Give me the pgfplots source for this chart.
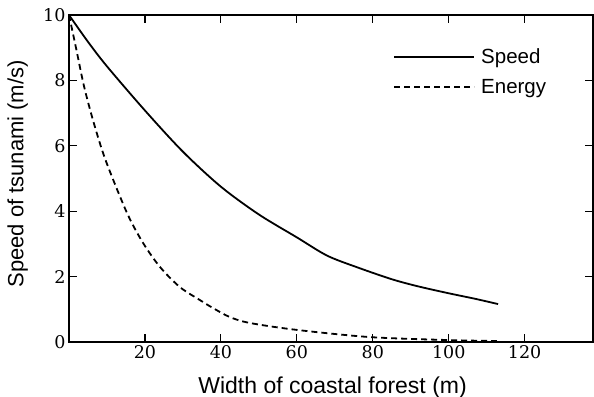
\documentclass[border=0pt]{standalone}
\usepackage{pgfplots}
\pgfplotsset{compat=1.18}
\usepackage{fontspec}
\setmainfont{Liberation Sans}
\newfontfamily\tickfont{DejaVu Serif}
\begin{document}
\begin{tikzpicture}
\begin{axis}[
  scale only axis, width=524bp, height=327bp,
  xmin=0, xmax=138, ymin=0, ymax=10,
  xtick={20,40,...,120}, ytick={0,2,...,10},
  tick align=inside, major tick length=8bp,
  axis line style={line width=1.4bp},
  every tick/.style={line width=1.2bp, black},
  /pgf/number format/assume math mode=true,
  ticklabel style={font=\tickfont\fontsize{17.5bp}{19bp}\selectfont},
  xlabel={Width of coastal forest (m)},
  ylabel={Speed of tsunami (m/s)},
  xlabel style={at={(rel axis cs:0.503,-0.156)}, anchor=base, font=\fontsize{23bp}{26bp}\selectfont},
  ylabel style={at={(rel axis cs:-0.098,0.514)}, anchor=center, font=\fontsize{22bp}{26bp}\selectfont},
  legend style={draw=none, fill=none, at={(rel axis cs:0.613,0.91)}, anchor=north west,
    font=\fontsize{20.5bp}{24bp}\selectfont, cells={anchor=west}, row sep=10bp, column sep=4bp},
  legend image code/.code={\draw[#1, line width=1.8bp] (0bp,0bp) -- (80bp,0bp);},
]
\addplot[black, line width=1.8bp, smooth, tension=0.5] coordinates {
(0,10) (5,9.18) (10,8.43) (20,7.08) (30,5.82) (40,4.75) (50,3.90) (60,3.20) (68,2.64) (76,2.28) (85,1.92) (92,1.70) (100,1.49) (107,1.32) (113,1.16)
};
\addlegendentry{Speed}
\addplot[black, line width=1.8bp, dash pattern=on 6bp off 4bp, smooth, tension=0.5] coordinates {
(0,10) (1.8,9.02) (4.0,7.80) (6.6,6.67) (9.7,5.54) (15.3,3.94) (19.5,3.03) (24.0,2.29) (29.2,1.68) (34.5,1.28) (37.9,1.04) (42.4,0.76) (47.7,0.58) (60.0,0.37) (79.3,0.15) (99.6,0.06) (112.7,0.03)
};
\addlegendentry{Energy}
\coordinate (bl) at (rel axis cs:0,0);
\coordinate (tr) at (rel axis cs:1,1);
\end{axis}
\pgfresetboundingbox
\path ([xshift=-69bp,yshift=-55bp]bl) rectangle ([xshift=1bp,yshift=15bp]tr);
\end{tikzpicture}
\end{document}
